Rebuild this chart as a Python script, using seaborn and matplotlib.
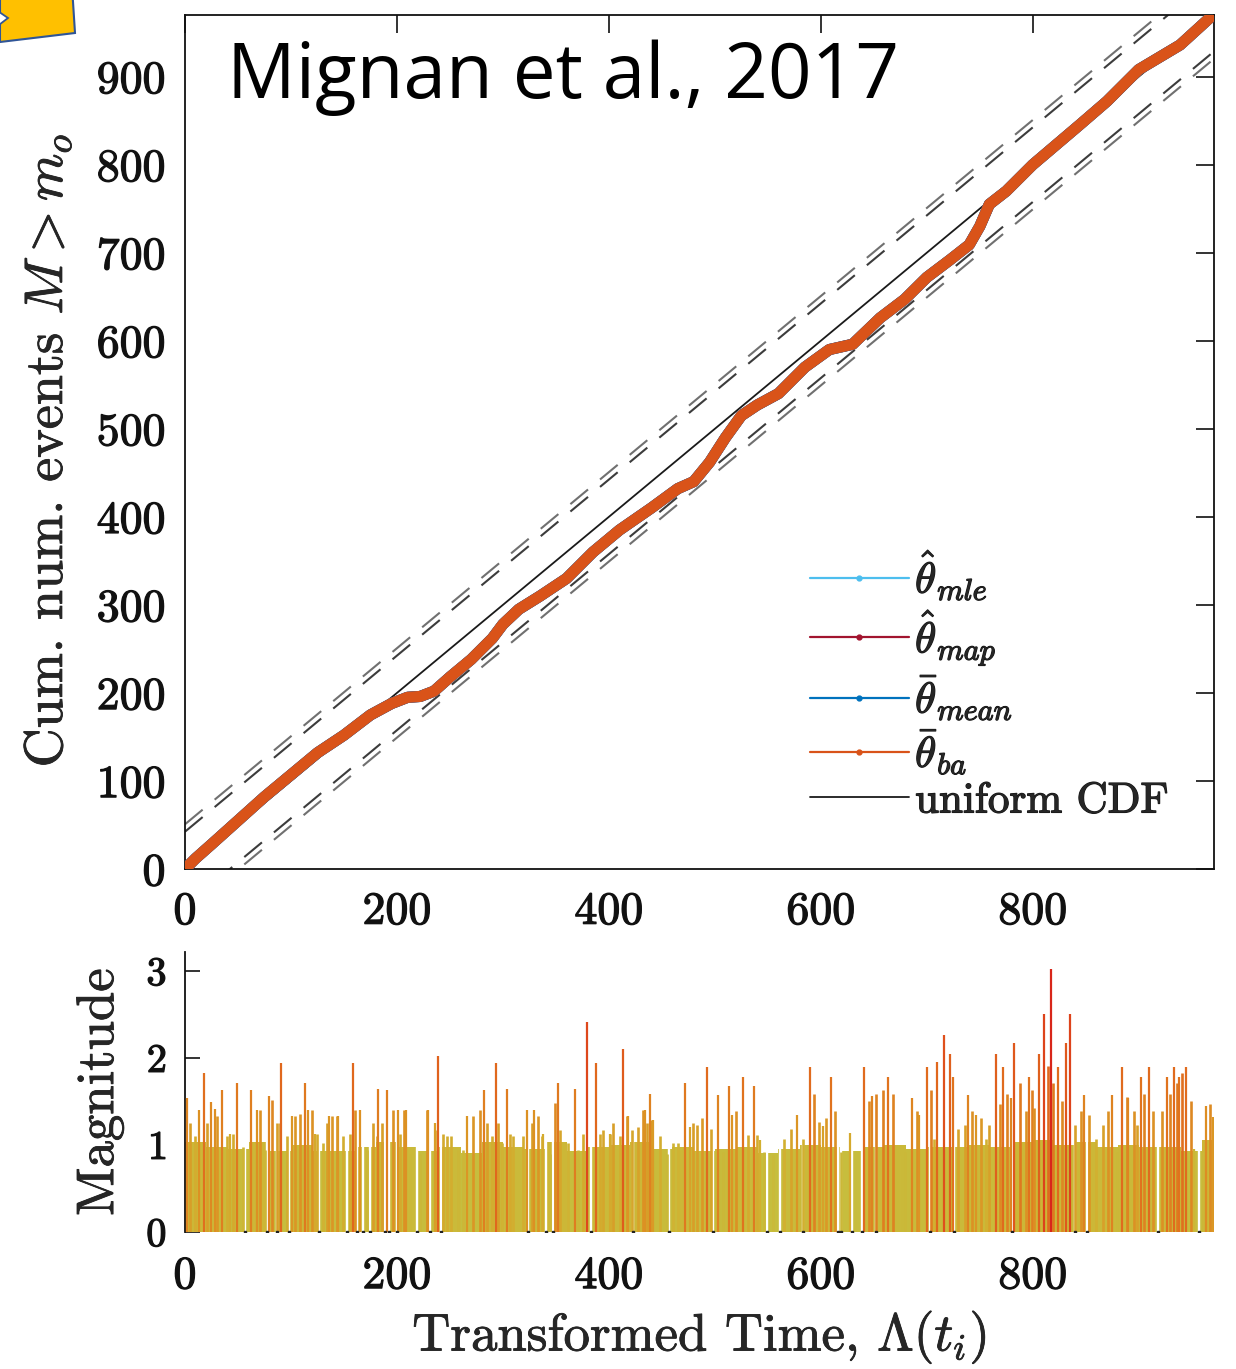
import numpy as np
import matplotlib
matplotlib.use("Agg")
import matplotlib.pyplot as plt
import matplotlib.patheffects as pe
import seaborn as sns
from matplotlib.colors import LinearSegmentedColormap, Normalize
from matplotlib.patches import Polygon
from matplotlib.lines import Line2D

# ---------------- data ----------------
n_events = 970
ks_coef = [1.36, 1.63]          # 95% / 99% Kolmogorov-Smirnov bands

# cumulative number of events vs transformed time
cum_t = [0, 10, 25, 50, 75, 100, 125, 150, 175, 195, 210, 222, 235, 250, 270,
         290, 300, 315, 335, 360, 385, 410, 440, 465, 480, 495, 510, 525, 540,
         560, 585, 608, 630, 656, 679, 700, 722, 740, 750, 759, 775, 800, 844,
         870, 900, 939, 970]
cum_n = [0, 12, 28, 55, 82, 107, 132, 152, 175, 188, 195, 196, 202, 218, 238,
         262, 278, 295, 310, 330, 360, 385, 410, 432, 440, 462, 490, 515, 527,
         540, 570, 590, 596, 626, 647, 672, 692, 709, 730, 755, 770, 800, 845,
         872, 908, 936, 970]

# dense low-magnitude body of the record (20-unit bins)
floor_t = list(range(0, 980, 20))
floor_m = [1.03, 0.98, 0.96, 1.03, 0.93, 1.00, 0.93, 0.93, 0.98, 1.03,
           0.98, 0.93, 0.98, 0.91, 1.03, 0.98, 0.96, 1.03, 0.93, 0.98,
           1.00, 1.03, 0.96, 0.98, 0.93, 0.96, 0.98, 0.91, 0.96, 1.00,
           0.98, 0.93, 0.98, 1.00, 0.96, 0.98, 0.98, 1.00, 0.98, 1.03,
           1.06, 1.00, 1.03, 0.98, 1.00, 0.98, 0.98, 0.93, 1.06]

# larger events
spike_t = [1.6, 13.5, 17.9, 25, 28, 34.6, 42.4, 49.4, 62, 68, 79.6, 91, 100.6,
           113, 116.3, 122.6, 136, 144.6, 158.8, 165, 182.4, 191, 201.3, 209,
           229.5, 236, 239, 265.7, 282, 293.4, 303.5, 322.3, 329.2, 338, 352.2,
           367.9, 379.5, 387.7, 400.9, 413.5, 418, 434, 438.7, 441.8, 471.7,
           476.4, 492.6, 503, 513.8, 516, 526.8, 536.5, 543, 577.7, 590, 602,
           609.6, 627.4, 640.5, 648.6, 663.2, 686, 692.5, 700, 709.6, 715.8,
           721.7, 725, 738.9, 746, 764.9, 772, 779, 782.5, 796.4, 806, 811,
           816.9, 823.4, 831, 835.4, 848.4, 874.3, 884.1, 890, 902, 910, 926.3,
           932.8, 937.7, 944.2, 952, 963.7, 970]
spike_m = [1.54, 1.40, 1.83, 1.50, 1.42, 1.63, 1.13, 1.71, 1.63, 1.40, 1.56,
           1.94, 1.33, 1.71, 1.40, 1.13, 1.33, 1.33, 1.94, 1.40, 1.65, 1.63,
           1.40, 1.40, 1.40, 1.25, 2.02, 1.33, 1.63, 1.94, 1.65, 1.40, 1.40,
           1.13, 1.71, 1.65, 2.42, 1.94, 1.13, 2.11, 1.33, 1.40, 1.59, 1.29,
           1.71, 1.21, 1.90, 1.58, 1.68, 1.34, 1.78, 1.68, 1.06, 1.34, 1.90,
           1.22, 1.78, 1.14, 1.90, 1.56, 1.78, 1.54, 1.34, 1.90, 1.95, 2.27,
           2.05, 1.78, 1.58, 1.34, 2.05, 1.90, 1.54, 2.17, 1.78, 2.05, 2.51,
           3.02, 1.90, 2.17, 2.51, 1.58, 1.58, 1.90, 1.54, 1.78, 1.90, 1.78,
           1.90, 1.78, 1.90, 0.95, 1.45, 1.32]

# intermediate events
mid_t = [4.7, 9.4, 21.1, 29.9, 39.3, 45.6, 55.0, 70.8, 75.5, 81.8, 86.5, 89.6,
         95.9, 103.8, 108.5, 119.5, 124.2, 130.5, 133.6, 138.4, 143.1, 149.4,
         155.7, 160.5, 171.4, 177.7, 180.8, 185.5, 196.5, 202.8, 206.6, 212.3,
         221.7, 228.0, 237.4, 243.7, 246.8, 250.6, 257.9, 262.6, 272.0, 278.3,
         284.6, 289.3, 295.6, 298.7, 306.6, 309.7, 319.2, 327.0, 333.3, 336.5,
         344.3, 349.0, 353.8, 356.9, 361.6, 371.1, 375.8, 391.5, 394.7, 401.0,
         404.1, 410.4, 416.7, 421.4, 427.7, 432.4, 435.5, 440.2, 448.1, 454.4,
         460.7, 465.4, 468.5, 479.6,
         482.9, 487.8, 495.9, 507.3, 520.3, 531.6, 539.8, 546.3, 554.4, 565.7,
         572.2, 583.6, 593.4, 598.2, 604.7, 612.9, 619.4, 632.3, 645.3, 651.8,
         658.3, 668.1, 674.6, 679.5, 690.8, 703.8, 707.1, 729.8, 736.3, 742.8,
         750.9, 755.8, 759.1, 768.8, 775.3, 788.3, 793.2, 799.7, 801.3, 814.3,
         819.2, 827.3, 840.3, 845.1, 853.3, 859.8, 866.3, 871.1, 879.3, 889.0,
         895.5, 898.8, 905.3, 913.4, 921.5, 929.6, 936.1, 941.0, 949.1, 960.5,
         967.0]
mid_m = [1.25, 1.10, 1.25, 1.33, 1.10, 1.13, 0.98, 1.40, 0.94, 1.52, 1.25, 1.25,
         1.10, 1.33, 1.36, 1.40, 1.13, 1.02, 1.25, 1.33, 1.33, 1.10,
         1.13, 1.40, 0.94, 1.25, 1.10, 1.25, 1.40, 1.13, 1.40, 0.90,
         0.90, 1.40, 1.17, 1.13, 1.10, 1.10, 0.94, 0.94, 1.33, 1.40,
         1.25, 1.10, 1.25, 1.02, 1.13, 1.10, 1.10, 1.25, 1.33, 1.10,
         0.90, 1.48, 1.17, 0.94, 1.02, 0.94, 1.13, 1.13, 1.17, 1.13,
         1.25, 1.10, 1.33, 1.17, 1.21, 1.40, 1.25, 1.29, 1.10, 0.90,
         1.02, 1.02, 0.94, 1.25,
         1.23, 1.31, 1.19, 0.92, 1.39, 1.11, 1.11, 0.92, 0.88, 1.07,
         1.19, 1.07, 1.59, 1.27, 1.31, 1.39, 0.92, 0.84, 1.51, 1.59,
         1.63, 1.59, 0.88, 0.92, 1.39, 1.63, 1.07, 1.19, 1.23, 1.39,
         1.31, 1.07, 1.23, 1.47, 1.59, 1.71, 1.39, 1.63, 1.43, 1.91,
         1.71, 1.51, 1.23, 1.39, 1.35, 1.07, 1.23, 1.39, 0.92, 1.55,
         1.39, 1.23, 1.59, 1.39, 1.39, 1.59, 1.71, 1.83, 1.51, 0.92,
         1.47]

# long waiting times between events
gap_t = [56.6, 77.7, 86.5, 98.4, 126.7, 152.5, 162, 167.6, 175, 188.7, 192.8,
         199.7, 218.6, 231.1, 242, 323.9, 341, 346.9, 382.7, 423, 457, 498.5,
         549.5, 561.5, 583, 616, 619.3, 629, 638.9, 651.9, 703.2, 726, 780.2,
         839.6, 851.6, 918.2, 957.2]

x_ticks = [0, 200, 400, 600, 800]
y_ticks = list(range(0, 1000, 100))
mag_ticks = [0, 1, 2, 3]

series = [(r"$\hat{\theta}_{mle}$", "#4dbeee"),
          (r"$\hat{\theta}_{map}$", "#a2142f"),
          (r"$\bar{\theta}_{mean}$", "#0072bd"),
          (r"$\bar{\theta}_{ba}$", "#d95319")]

# ---------------- style ----------------
sns.set_theme(style="white")
plt.rcParams.update({
    "font.family": ["cmr10", "DejaVu Serif"],
    "mathtext.fontset": "cm",
    "axes.formatter.use_mathtext": True,
    "axes.unicode_minus": False,
    "axes.edgecolor": "#111111",
    "axes.linewidth": 1.3,
})
bold = [pe.withStroke(linewidth=0.9, foreground="#151515")]

W, H = 1236, 1369
fig = plt.figure(figsize=(W / 100, H / 100), dpi=100)


def rect(l, t, r, b):
    return [l / W, 1 - b / H, (r - l) / W, (b - t) / H]


ax1 = fig.add_axes(rect(185, 15, 1214, 869))
ax2 = fig.add_axes(rect(185, 952, 1214, 1232))

# ---------------- top panel ----------------
diag = np.array([0, n_events], dtype=float)
for c, col in zip(ks_coef, ["#3c3c3c", "#707070"]):
    d = c * np.sqrt(n_events)
    for sgn in (1, -1):
        sns.lineplot(x=diag, y=diag + sgn * d, ax=ax1, color=col, lw=1.5,
                     linestyle=(0, (11, 7.5)), zorder=2)

sns.lineplot(x=diag, y=diag, ax=ax1, color="#1a1a1a", lw=1.3, zorder=3)

for label, col in series:
    sns.lineplot(x=cum_t, y=cum_n, ax=ax1, color=col, lw=8, sort=False,
                 estimator=None, zorder=4, solid_capstyle="round")

ax1.set_xlim(0, 971)
ax1.set_ylim(0, 970)
ax1.set_xticks(x_ticks)
ax1.set_yticks(y_ticks)
ax1.tick_params(direction="in", length=13, width=1.2, top=True, right=True,
                labelsize=33, pad=14, colors="#111111")
ax1.tick_params(axis="x", pad=16)
ax1.set_xlabel("")
ax1.set_ylabel(r"Cum. num. events $M > m_o$", fontsize=39)
ax1.yaxis.label.set_va("center")
ax1.yaxis.set_label_coords(-0.133, 0.49)

handles = [Line2D([], [], color=c, lw=1.6, marker="o", ms=3.5)
           for _, c in series]
handles.append(Line2D([], [], color="#1a1a1a", lw=1.3))
labels = [s[0] for s in series] + ["uniform CDF"]
leg = ax1.legend(handles, labels, loc="upper left", bbox_to_anchor=(0.607, 0.375),
                 frameon=False, fontsize=31, handlelength=2.3, handletextpad=0.15,
                 labelspacing=0.14, borderpad=0, borderaxespad=0)
for t in leg.get_texts():
    t.set_path_effects(bold)

# ---------------- bottom panel ----------------
cmap = LinearSegmentedColormap.from_list(
    "mag", [(0.0, "#c6be3e"), (0.12, "#d2b030"), (0.25, "#dc9424"),
            (0.45, "#e0721e"), (0.68, "#df4f1c"), (1.0, "#d8261a")])
norm = Normalize(0.8, 3.0)

floor_m_arr = np.array(floor_m)
ax2.bar(floor_t, floor_m_arr, width=20, align="edge",
        color=cmap(norm(floor_m_arr - 0.1)), linewidth=0, zorder=2)

gap_idx = np.clip(np.searchsorted(floor_t, gap_t, side="right") - 1, 0, len(floor_t) - 1)
ax2.vlines(gap_t, 0, floor_m_arr[gap_idx] + 0.03, colors="white", lw=1.7, zorder=3)
ax2.plot(gap_t, np.zeros(len(gap_t)), "s", color="#222222", ms=1.8, zorder=5)

mid_m_arr = np.array(mid_m)
ax2.vlines(mid_t, 0, mid_m_arr, colors=cmap(norm(mid_m_arr)), lw=1.9, zorder=4)
spike_m_arr = np.array(spike_m)
ax2.vlines(spike_t, 0, spike_m_arr, colors=cmap(norm(spike_m_arr)), lw=1.6, zorder=4)

ax2.set_xlim(0, 971)
ax2.set_ylim(0, 3.22)
ax2.set_xticks(x_ticks)
ax2.set_yticks(mag_ticks)
for s in ["top", "right", "bottom"]:
    ax2.spines[s].set_visible(False)
ax2.tick_params(axis="y", direction="in", length=11, width=1.2, labelsize=29,
                pad=13, colors="#111111", left=True)
ax2.tick_params(axis="x", length=0, labelsize=33, pad=17, colors="#111111")
ax2.set_ylabel("Magnitude", fontsize=38)
ax2.yaxis.label.set_va("center")
ax2.yaxis.set_label_coords(-0.083, 0.5)
ax2.set_xlabel(r"Transformed Time, $\Lambda(t_i)$", fontsize=38)
ax2.xaxis.label.set_va("center")
ax2.xaxis.set_label_coords(0.5, -0.375)

for ax in (ax1, ax2):
    for t in ax.get_xticklabels() + ax.get_yticklabels():
        t.set_path_effects(bold)
    ax.xaxis.label.set_path_effects([pe.withStroke(linewidth=0.6, foreground="#222222")])
    ax.yaxis.label.set_path_effects([pe.withStroke(linewidth=0.6, foreground="#222222")])

# ---------------- annotations ----------------
fig.text(227 / W, 1 - 98 / H, "Mignan et al., 2017", fontfamily="Open Sans",
         fontsize=55, ha="left", va="baseline", color="black")

fig.add_artist(Polygon([[0, 1 - 42 / H], [75 / W, 1 - 33 / H], [72 / W, 1.01],
                        [0, 1.01]], closed=True, transform=fig.transFigure,
                       facecolor="#ffc000", edgecolor="#2f5597", lw=1.5))
fig.add_artist(Polygon([[-0.003, 1 - 10 / H], [8 / W, 1 - 18 / H],
                        [-0.003, 1 - 27 / H]], closed=True,
                       transform=fig.transFigure, facecolor="white",
                       edgecolor="#2f5597", lw=1.3))

fig.savefig("out.png", dpi=100)
